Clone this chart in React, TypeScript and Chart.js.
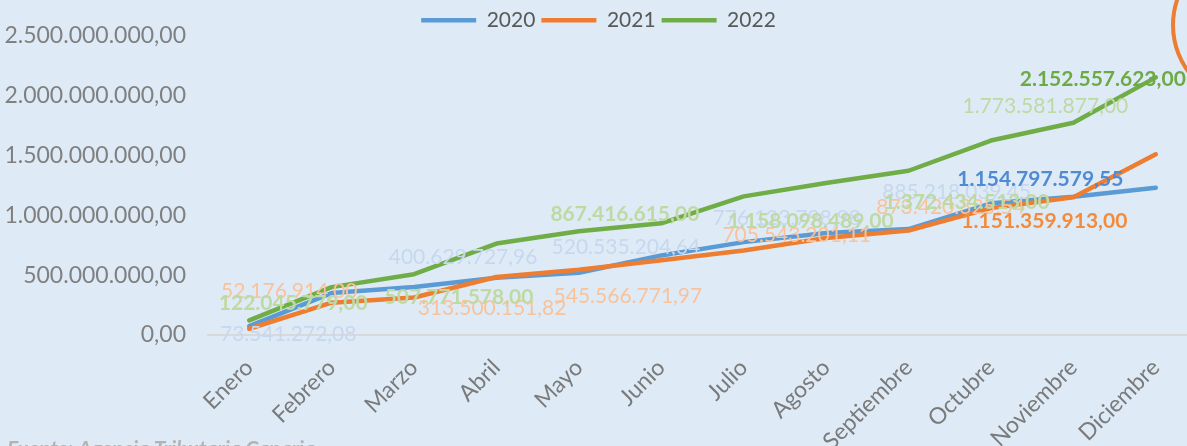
import React, { useEffect, useRef } from "react";
import { Chart, registerables } from "chart.js";

Chart.register(...registerables);

const months = [
  "Enero", "Febrero", "Marzo", "Abril", "Mayo", "Junio",
  "Julio", "Agosto", "Septiembre", "Octubre", "Noviembre", "Diciembre",
];

const seriesNames = ["2020", "2021", "2022"];

const values2020 = [
  73541272.08, 350000000, 400629727.96, 478000000, 520535204.64, 665000000,
  776123798.98, 853000000, 885218039.45, 1100000000, 1154797579.55, 1230000000,
];
const values2021 = [
  52176914.0, 270000000, 313500151.82, 485000000, 545566771.97, 625000000,
  705543201.11, 810000000, 873420325.54, 1060000000, 1151359913.0, 1510000000,
];
const values2022 = [
  122045779.0, 400000000, 507771578.0, 764000000, 867416615.0, 933000000,
  1158098489.0, 1270000000, 1372434513.0, 1625000000, 1773581877.0, 2152557623.0,
];

const yTicks = [0, 500000000, 1000000000, 1500000000, 2000000000, 2500000000];

const labeled2020 = [0, 2, 4, 6, 8, 10];
const labeled2021 = [0, 2, 4, 6, 8, 10];
const labeled2022 = [0, 2, 4, 6, 8, 10, 11];

const sourceText = "Fuente: Agencia Tributaria Canaria";

function fmt(v: number): string {
  const [i, d] = Math.abs(v).toFixed(2).split(".");
  return i.replace(/\B(?=(\d{3})+(?!\d))/g, ".") + "," + d;
}

// label styling (offset of text centre from point, weight, colour)
const labelStyle: any[] = [
  {
    light: "#c7d7ee", dark: "#4f8ad3",
    items: [
      { dx: 39, dy: 7 }, { dx: 49, dy: -31 }, { dx: 47, dy: -26 },
      { dx: 43, dy: -25 }, { dx: 48, dy: -38 }, { dx: -33, dy: -18, bold: true, dark: true },
    ],
  },
  {
    light: "#f9c29b", dark: "#f28c3c",
    items: [
      { dx: 40, dy: -38 }, { dx: 78, dy: 10 }, { dx: 49, dy: 26 },
      { dx: 53, dy: -16 }, { dx: 42, dy: -24 }, { dx: -29, dy: 23, bold: true, dark: true },
    ],
  },
  {
    light: "#bfd9a3", dark: "#6caa45",
    items: [
      { dx: 44, dy: -18, bold: true }, { dx: 45, dy: 22, bold: true }, { dx: 46, dy: -18, bold: true },
      { dx: 67, dy: 24, bold: true }, { dx: 58, dy: 31, bold: true }, { dx: -28, dy: -17 },
      { dx: -53, dy: 1, bold: true, dark: true },
    ],
  },
];

const labeledIdx = [labeled2020, labeled2021, labeled2022];

const FONT = "Lato, 'Open Sans', sans-serif";
const BG = "#deebf7";

const labelsPlugin = {
  id: "valueLabels",
  afterDatasetsDraw(chart: any) {
    const ctx = chart.ctx;
    const xs = chart.scales.x;
    const ys = chart.scales.y;
    ctx.save();
    chart.data.datasets.forEach((ds: any, di: number) => {
      const st = labelStyle[di];
      labeledIdx[di].forEach((idx: number, k: number) => {
        const it = st.items[k];
        const v = ds.data[idx];
        const px = xs.getPixelForValue(idx);
        const py = ys.getPixelForValue(v);
        const size = 21;
        ctx.font = `${it.bold ? "bold " : ""}${size}px ${FONT}`;
        ctx.fillStyle = it.dark ? st.dark : st.light;
        ctx.textAlign = "center";
        ctx.textBaseline = "alphabetic";
        ctx.fillText(fmt(v), px + it.dx, py + it.dy + size * 0.36);
      });
    });
    ctx.restore();
  },
  afterDraw(chart: any) {
    const ctx = chart.ctx;
    ctx.save();
    ctx.strokeStyle = "#ed7d31";
    ctx.lineWidth = 4;
    ctx.beginPath();
    ctx.arc(1252, 25, 79, 0, Math.PI * 2);
    ctx.stroke();
    ctx.font = `italic bold 21px ${FONT}`;
    ctx.fillStyle = "#b3b3b3";
    ctx.textAlign = "left";
    ctx.textBaseline = "alphabetic";
    ctx.fillText(sourceText, 7, 456);
    ctx.restore();
  },
};

export default function App() {
  const ref = useRef<HTMLCanvasElement>(null);
  useEffect(() => {
    document.body.style.margin = "0";
    document.body.style.background = BG;
    document.documentElement.style.overflow = "hidden";
    const colors = ["#5b9bd5", "#ed7d31", "#70ad47"];
    const data = [values2020, values2021, values2022];
    const chart = new Chart(ref.current!, {
      type: "line",
      data: {
        labels: months,
        datasets: seriesNames.map((n, i) => ({
          label: n,
          data: data[i],
          borderColor: colors[i],
          backgroundColor: colors[i],
          borderWidth: 4.5,
          borderCapStyle: "round",
          borderJoinStyle: "round",
          pointRadius: 0,
          tension: 0,
          order: 2 - i,
        })),
      },
      options: {
        responsive: false,
        animation: false,
        layout: { padding: { left: 0, right: 3, top: 3, bottom: 0 } },
        plugins: {
          legend: {
            display: true,
            position: "top",
            maxHeight: 32,
            labels: {
              usePointStyle: true,
              pointStyle: "line",
              pointStyleWidth: 55,
              padding: 6,
              color: "#595959",
              font: { family: FONT, size: 21 },
              sort: (a: any, b: any) => a.datasetIndex - b.datasetIndex,
            },
          },
          tooltip: { enabled: false },
        },
        scales: {
          x: {
            offset: true,
            grid: { display: false, drawTicks: false, offset: true },
            border: { display: true, color: "#d9d9d9", width: 2 },
            ticks: {
              color: "#7a7a7a",
              font: { family: FONT, size: 23 },
              minRotation: 45,
              maxRotation: 45,
              autoSkip: false,
              padding: 19,
            },
            afterFit: (axis: any) => {
              axis.height = 135;
            },
          },
          y: {
            min: 0,
            max: 2500000000,
            grid: { display: false, drawTicks: false },
            border: { display: false },
            afterBuildTicks: (axis: any) => {
              axis.ticks = yTicks.map((v) => ({ value: v }));
            },
            ticks: {
              color: "#808080",
              font: { family: FONT, size: 23 },
              padding: 22,
              callback: (v: any) => fmt(Number(v)),
            },
            afterFit: (axis: any) => {
              axis.width = 208;
            },
          },
        },
      },
      plugins: [labelsPlugin],
    });
    return () => chart.destroy();
  }, []);
  return (
    <div style={{ width: 1187, height: 446, overflow: "hidden", position: "relative", background: BG }}>
      <canvas ref={ref} width={1200} height={470} style={{ position: "absolute", left: 0, top: 0 }} />
    </div>
  );
}
